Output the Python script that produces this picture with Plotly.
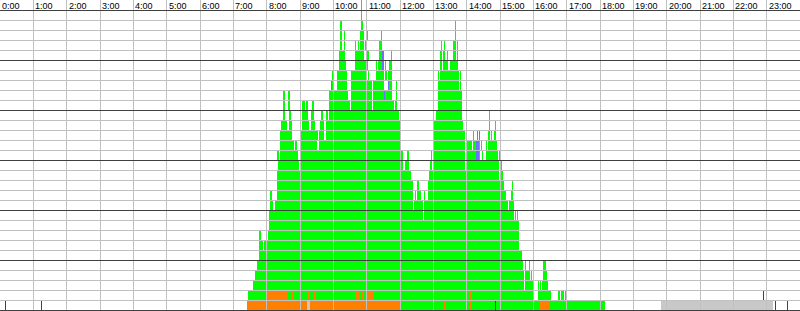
import math
import plotly.graph_objects as go

# Hour tick labels (top axis)
hour_labels = ["0:00", "1:00", "2:00", "3:00", "4:00", "5:00", "6:00", "7:00",
               "8:00", "9:00", "10:00", "11:00", "12:00", "13:00", "14:00", "15:00",
               "16:00", "17:00", "18:00", "19:00", "20:00", "21:00", "22:00", "23:00"]
hour_values = list(range(24))

# Busy intervals per lane (lane 0 = bottom), in hours of day
green_lanes = {
    30: [(10.83, 10.86)],
    29: [(10.83, 10.86)],
    28: [(10.20, 10.26), (10.83, 10.89), (13.65, 13.68)],
    27: [(10.20, 10.26), (10.32, 10.35), (10.80, 10.92), (11.01, 11.04), (11.43, 11.46), (13.65, 13.68)],
    26: [(10.20, 10.26), (10.32, 10.35), (10.65, 10.68), (10.74, 10.77), (10.80, 10.92), (10.95, 10.98),
         (11.37, 11.46), (13.23, 13.26), (13.32, 13.35), (13.59, 13.68), (13.71, 13.74)],
    25: [(10.17, 10.35), (10.65, 10.92), (11.01, 11.07), (11.37, 11.46), (11.73, 11.76), (13.20, 13.26),
         (13.29, 13.35), (13.41, 13.44), (13.59, 13.68), (13.71, 13.74)],
    24: [(10.17, 10.38), (10.65, 10.98), (11.01, 11.04), (11.28, 11.31), (11.34, 11.46), (11.55, 11.58),
         (11.67, 11.76), (13.20, 13.26), (13.29, 13.44), (13.50, 13.74)],
    23: [(9.96, 9.99), (10.11, 10.41), (10.53, 11.01), (11.04, 11.07), (11.28, 11.52), (11.55, 11.61),
         (11.64, 11.76), (13.14, 13.17), (13.20, 13.77), (13.80, 13.83)],
    22: [(9.96, 9.99), (10.11, 10.41), (10.53, 11.16), (11.19, 11.52), (11.67, 11.76), (11.88, 11.91),
         (13.14, 13.77), (13.80, 13.83)],
    21: [(8.51, 8.54), (8.66, 8.70), (9.87, 10.44), (10.53, 11.16), (11.19, 11.52), (11.55, 11.76),
         (11.88, 11.91), (13.14, 13.86)],
    20: [(8.51, 8.54), (8.66, 8.70), (9.05, 9.15), (9.20, 9.24), (9.38, 9.42), (9.87, 10.50),
         (10.53, 11.16), (11.19, 11.82), (11.85, 11.91), (13.14, 13.86)],
    19: [(8.48, 8.54), (8.66, 8.72), (9.05, 9.24), (9.32, 9.42), (9.63, 9.68), (9.78, 9.84),
         (9.87, 11.97), (13.08, 13.86), (14.67, 14.70)],
    18: [(8.42, 8.60), (8.66, 8.75), (9.05, 9.26), (9.32, 9.44), (9.60, 9.71), (9.78, 12.00),
         (13.02, 13.89), (14.67, 14.70), (14.85, 14.88)],
    17: [(8.39, 8.75), (9.02, 9.53), (9.57, 9.71), (9.78, 12.00), (13.02, 13.95), (14.19, 14.22),
         (14.64, 14.70), (14.73, 14.76), (14.82, 14.88)],
    16: [(8.39, 8.81), (8.84, 8.90), (9.02, 9.50), (9.56, 12.00), (13.02, 13.95), (14.01, 14.16),
         (14.19, 14.28), (14.37, 14.40), (14.43, 14.46), (14.58, 14.61), (14.64, 14.91)],
    15: [(8.33, 8.36), (8.39, 8.93), (9.02, 12.09), (12.23, 12.26), (12.93, 12.96), (13.02, 13.95),
         (14.01, 14.28), (14.37, 14.40), (14.46, 14.49), (14.58, 14.94), (14.97, 15.00)],
    14: [(8.33, 8.97), (9.02, 12.09), (12.15, 12.27), (12.90, 12.96), (13.00, 13.95), (13.98, 14.97),
         (15.03, 15.06)],
    13: [(8.30, 12.33), (12.87, 14.97), (15.00, 15.09)],
    12: [(8.30, 12.39), (12.51, 12.57), (12.84, 15.12), (15.36, 15.39)],
    11: [(8.09, 8.16), (8.30, 12.39), (12.45, 12.48), (12.51, 12.63), (12.72, 12.75), (12.84, 15.18),
         (15.33, 15.39)],
    10: [(8.09, 8.18), (8.24, 12.39), (12.42, 12.69), (12.72, 15.24), (15.27, 15.42)],
    9: [(8.06, 12.69), (12.72, 15.42), (15.45, 15.48), (15.51, 15.54)],
    8: [(8.06, 15.57)],
    7: [(7.77, 7.83), (8.03, 15.57)],
    6: [(7.77, 7.90), (7.92, 7.96), (8.00, 15.57)],
    5: [(7.77, 15.66)],
    4: [(7.71, 15.69), (15.75, 15.78), (15.87, 15.90), (16.29, 16.38)],
    3: [(7.65, 15.72), (15.75, 15.90), (15.93, 15.96), (16.29, 16.41)],
    2: [(7.59, 15.72), (15.75, 15.99), (16.14, 16.17), (16.20, 16.23), (16.26, 16.44)],
    1: [(7.44, 16.02), (16.14, 16.53), (16.74, 16.80), (16.83, 16.92), (16.95, 17.01)],
    0: [(12.03, 18.15)],
}

orange_lanes = {
    3: [(8.56, 8.58)],
    2: [(8.56, 8.58)],
    1: [(8.00, 8.61), (8.75, 8.78), (9.21, 9.28), (9.41, 9.44), (10.23, 10.26), (10.41, 10.44),
        (10.65, 10.77), (10.86, 10.92), (11.01, 11.07), (11.10, 11.13), (11.16, 11.19), (14.10, 14.13)],
    0: [(7.41, 12.01), (13.29, 13.35), (13.71, 13.74), (14.07, 14.13), (15.15, 15.18), (16.20, 16.47)],
}

blue_lanes = {
    25: [(11.46, 11.52)],
    24: [(11.46, 11.52)],
    22: [(9.93, 9.96), (11.64, 11.67)],
    21: [(11.52, 11.55)],
    17: [(14.31, 14.34), (14.37, 14.40)],
    16: [(14.28, 14.37)],
    15: [(14.28, 14.37)],
}

gray_lanes = {
    0: [(9.21, 9.30), (19.83, 23.19)],
}

red_lanes = {
    1: [(22.89, 22.92)],
    0: [(0.15, 0.18), (1.23, 1.26), (14.85, 14.88), (23.25, 23.28), (23.61, 23.64)],
}

N_LANES = 31
W, H = 800, 311

fig = go.Figure()


def add_lanes(lanes, color):
    ys, bases, lens = [], [], []
    for lane, ivs in lanes.items():
        for s, e in ivs:
            ys.append(lane + 0.5)
            bases.append(s)
            lens.append(e - s)
    fig.add_trace(go.Bar(
        y=ys, x=lens, base=bases, orientation="h", width=1.0,
        marker=dict(color=color, line=dict(width=0)),
        showlegend=False, hoverinfo="skip",
    ))


add_lanes(green_lanes, "#00ff00")
add_lanes(orange_lanes, "#ff8000")
add_lanes(blue_lanes, "#7070ff")
add_lanes(gray_lanes, "#c8c8c8")
add_lanes(red_lanes, "#e00000")

shapes = []
px_per_h = W / 24.0
for h in range(1, 24):
    xp = math.floor(h * px_per_h) + 0.5
    xv = xp / px_per_h
    shapes.append(dict(type="line", xref="x", yref="y", x0=xv, x1=xv, y0=-0.1, y1=N_LANES,
                       line=dict(color="#c0c0c0", width=1), layer="above"))
for b in range(0, 31):
    if b % 5 == 0:
        continue
    yv = b - 0.05
    shapes.append(dict(type="line", xref="x", yref="y", x0=0, x1=24, y0=yv, y1=yv,
                       line=dict(color="#c0c0c0", width=1), layer="above"))
for b in range(0, 31, 5):
    yv = b - 0.05
    shapes.append(dict(type="line", xref="x", yref="y", x0=0, x1=24, y0=yv, y1=yv,
                       line=dict(color="#404040", width=1), layer="above"))

annotations = []
for h, lab in zip(hour_values, hour_labels):
    annotations.append(dict(x=h, y=30.5, xref="x", yref="y", text=lab, showarrow=False,
                            xanchor="left", yanchor="middle", xshift=0, yshift=-1,
                            font=dict(family="Liberation Sans, Arial, sans-serif", size=9, color="#000000")))

fig.update_layout(
    width=W, height=H,
    margin=dict(l=0, r=0, t=0, b=0),
    paper_bgcolor="white", plot_bgcolor="white",
    barmode="overlay", bargap=0,
    shapes=shapes, annotations=annotations,
    xaxis=dict(range=[0, 24], showgrid=False, zeroline=False, showticklabels=False,
               ticks="", showline=False, fixedrange=True),
    yaxis=dict(range=[-0.1, N_LANES], showgrid=False, zeroline=False, showticklabels=False,
               ticks="", showline=False, fixedrange=True),
)

fig.write_html("out.html")
